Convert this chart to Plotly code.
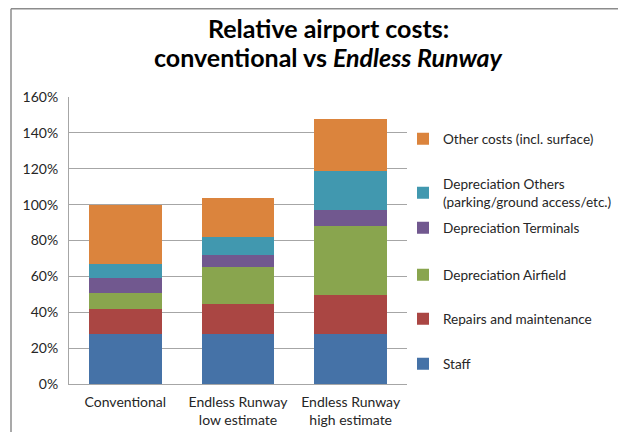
import plotly.graph_objects as go

categories = ["Conventional", "Endless Runway<br>low estimate", "Endless Runway<br>high estimate"]
series_names = [
    "Staff",
    "Repairs and maintenance",
    "Depreciation Airfield",
    "Depreciation Terminals",
    "Depreciation Others<br>(parking/ground access/etc.)",
    "Other costs (incl. surface)",
]
staff = [28, 28, 28]
repairs = [14, 16.6, 21.7]
airfield = [9, 20.5, 38.2]
terminals = [8, 6.6, 8.9]
dep_others = [8, 10.5, 22.2]
other_costs = [33, 21.4, 28.8]
series_values = [staff, repairs, airfield, terminals, dep_others, other_costs]
colors = ["#4572A7", "#AA4643", "#89A54E", "#71588F", "#4198AF", "#DB843D"]
title_lines = ["Relative airport costs:", "conventional vs <i>Endless Runway</i>"]

W, H = 626, 432
# figure-pixel geometry of the plot area
PL, PR, PT, PB = 61, 399, 89, 376
pw, ph = PR - PL, PB - PT

def fx(x):
    return (x - PL) / pw

def fy(y):
    return (PB - y) / ph

font = "Lato"
legend_y = [356, 311, 267, 220, 185, 131]
legend_x = 395

fig = go.Figure()
for i, (name, vals, col) in enumerate(zip(series_names, series_values, colors)):
    lg = "legend" if i == 0 else f"legend{i+1}"
    fig.add_trace(go.Bar(
        x=categories, y=vals, name=name, marker=dict(color=col, line=dict(width=0)),
        legend=lg,
    ))

layout_legends = {}
for i, yv in enumerate(legend_y):
    key = "legend" if i == 0 else f"legend{i+1}"
    layout_legends[key] = dict(
        x=fx(legend_x), y=fy(yv), xanchor="left", yanchor="middle",
        font=dict(family=font, size=13.6, color="#262626"),
        bgcolor="rgba(0,0,0,0)", borderwidth=0,
    )

annotations = []
for txt, yc in zip(title_lines, [20, 49]):
    annotations.append(dict(
        text=txt, x=fx(320), y=fy(yc), xref="paper", yref="paper",
        xanchor="center", yanchor="middle", showarrow=False,
        font=dict(family=font, size=25, color="#000000", weight="bold"),
    ))

# chart frame (top and left edges)
frame = [
    dict(type="line", xref="paper", yref="paper",
         x0=fx(3), x1=fx(W), y0=fy(0.75), y1=fy(0.75),
         line=dict(color="#8c8c8c", width=1.5), layer="above"),
    dict(type="line", xref="paper", yref="paper",
         x0=fx(3), x1=fx(3), y0=fy(0.75), y1=fy(H),
         line=dict(color="#8c8c8c", width=1.5), layer="above"),
]

fig.update_layout(
    width=W, height=H,
    margin=dict(l=PL, r=W - PR, t=PT, b=H - PB, pad=0),
    barmode="stack", bargap=0.357,
    paper_bgcolor="white", plot_bgcolor="white",
    font=dict(family=font, size=14, color="#262626"),
    xaxis=dict(
        showline=True, linecolor="#a6a6a6", linewidth=1,
        tickfont=dict(family=font, size=14, color="#262626"),
        ticks="", ticklen=0, ticklabelstandoff=5,
    ),
    yaxis=dict(
        range=[0, 160], dtick=20, ticksuffix="%",
        showgrid=True, gridcolor="#a6a6a6", gridwidth=1,
        showline=True, linecolor="#a6a6a6", linewidth=1,
        tickfont=dict(family=font, size=14, color="#262626"),
        ticks="", zeroline=False, ticklabelstandoff=7,
    ),
    showlegend=True,
    annotations=annotations,
    shapes=frame,
    **layout_legends,
)

fig.write_html("out.html")
